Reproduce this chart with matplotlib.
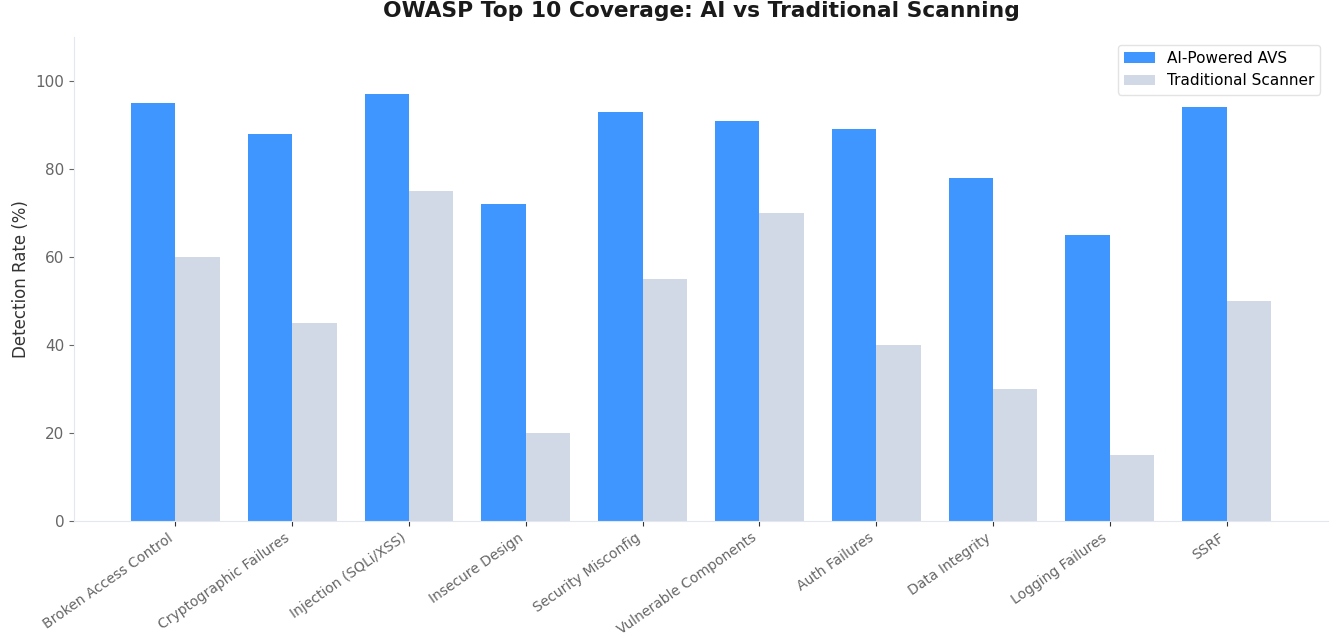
import matplotlib
matplotlib.use("Agg")
import matplotlib.pyplot as plt
import numpy as np

categories = ["Broken Access Control", "Cryptographic Failures", "Injection (SQLi/XSS)",
              "Insecure Design", "Security Misconfig", "Vulnerable Components",
              "Auth Failures", "Data Integrity", "Logging Failures", "SSRF"]
ai_values = [95, 88, 97, 72, 93, 91, 89, 78, 65, 94]
trad_values = [60, 45, 75, 20, 55, 70, 40, 30, 15, 50]
yticks = [0, 20, 40, 60, 80, 100]

fig = plt.figure(figsize=(13.4, 6.38), dpi=100)
ax_left, ax_width = 0.0552, 0.9358
ax = fig.add_axes([ax_left, 0.1834, ax_width, 0.7586])

x = np.arange(len(categories))
w = 0.38
ax.bar(x - w/2, ai_values, w, color="#4096FF", label="AI-Powered AVS")
ax.bar(x + w/2, trad_values, w, color="#D1D9E6", label="Traditional Scanner")

ax.set_ylim(0, 110)
ax.set_yticks(yticks)
ax.set_xticks(x)
ax.set_xticklabels(categories, rotation=35, ha="right", fontsize=10, color="#666666")
ax.tick_params(axis="y", labelsize=11, labelcolor="#666666", color="#666666")
ax.tick_params(axis="x", color="#333333")
ax.set_ylabel("Detection Rate (%)", fontsize=12, color="#333333")
for s in ["top", "right"]:
    ax.spines[s].set_visible(False)
for s in ["left", "bottom"]:
    ax.spines[s].set_color("#E3E8F0")
leg = ax.legend(loc="upper right", fontsize=11, frameon=True)
leg.get_frame().set_edgecolor("#DDDDDD")

fig.text(ax_left + ax_width / 2, 1 - 17/638, "OWASP Top 10 Coverage: AI vs Traditional Scanning",
         ha="center", va="baseline", fontsize=15.7, fontweight="bold", color="#1a1a1a")

fig.savefig("out.png", dpi=100)
